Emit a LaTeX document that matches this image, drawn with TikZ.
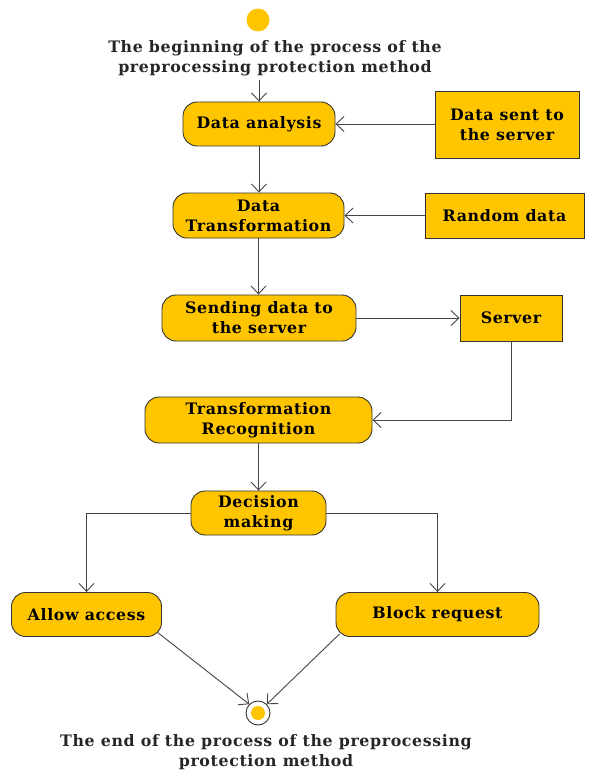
\documentclass[tikz,border=0pt]{standalone}
\usepackage{fontspec}
\setmainfont{DejaVu Serif}[LetterSpace=4]
\usetikzlibrary{arrows.meta}
\definecolor{act}{HTML}{FFC600}
\definecolor{edge}{HTML}{333333}
\definecolor{wire}{HTML}{444444}
\tikzset{
  actbox/.style={draw=edge, fill=act, line width=0.9pt, rounded corners=14pt, align=center, inner sep=0pt, font=\bfseries\fontsize{15.8}{20}\selectfont},
  objbox/.style={draw=edge, fill=act, line width=0.9pt, align=center, inner sep=0pt, font=\bfseries\fontsize{15.8}{20}\selectfont},
  lbl/.style={align=center, inner sep=0pt, font=\bfseries\fontsize{15.8}{20}\selectfont, text=black!85},
  arr/.style={draw=wire, line width=0.9pt, -{Straight Barb[length=8pt,width=15pt]}}
}
\begin{document}
\begin{tikzpicture}[x=1pt,y=-1pt]
\useasboundingbox (0,0) rectangle (593,770);
\node[circle, fill=act, minimum size=23pt, inner sep=0pt] (start) at (258,20) {};
\node[lbl] (startlbl) at (275,58) {The beginning of the process of the\\preprocessing protection method};
\coordinate (lblout) at (258,80);
\node[actbox, minimum width=152pt, minimum height=44pt] (da) at (259,124) {Data analysis};
\node[objbox, minimum width=144pt, minimum height=67pt] (ds) at (507,124.5) {Data sent to\\the server};
\node[actbox, minimum width=171pt, minimum height=45pt] (dt) at (258.5,215.5) {Data\\Transformation};
\node[objbox, minimum width=159pt, minimum height=45pt] (rd) at (504.5,215.5) {Random data};
\node[actbox, minimum width=194pt, minimum height=46pt] (sd) at (259,318) {Sending data to\\the server};
\node[objbox, minimum width=102pt, minimum height=46pt] (srv) at (511,318) {Server};
\node[actbox, minimum width=227pt, minimum height=46pt] (tr) at (258.5,420) {Transformation\\Recognition};
\node[actbox, minimum width=135pt, minimum height=44pt] (dm) at (258.5,513) {Decision\\making};
\node[actbox, minimum width=150pt, minimum height=44pt] (aa) at (86.5,614.5) {Allow access};
\node[actbox, minimum width=203pt, minimum height=44pt] (br) at (437.5,614.5) {Block request};
\node[circle, draw=edge, fill=white, line width=0.9pt, minimum size=24pt, inner sep=0pt] (end) at (258,713) {};
\node[circle, fill=act, minimum size=14pt, inner sep=0pt] at (end.center) {};
\node[lbl] (endlbl) at (266,752) {The end of the process of the preprocessing\\protection method};
\draw[arr] (lblout -| da.north) -- (da.north);
\draw[arr] (ds.west |- da.east) -- (da.east);
\draw[arr] (da.south) -- (da.south |- dt.north);
\draw[arr] (rd.west) -- (dt.east);
\draw[arr] (dt.south) -- (dt.south |- sd.north);
\draw[arr] (sd.east) -- (srv.west);
\draw[arr] (srv.south) |- (tr.east);
\draw[arr] (tr.south) -- (tr.south |- dm.north);
\draw[arr] (dm.west) -| (aa.north);
\draw[arr] (dm.east) -| (br.north);
\draw[arr] ([xshift=-5pt,yshift=5pt]aa.south east) -- (end.north west);
\draw[arr] ([xshift=4pt,yshift=3pt]br.south west) -- (end.north east);
\end{tikzpicture}
\end{document}
